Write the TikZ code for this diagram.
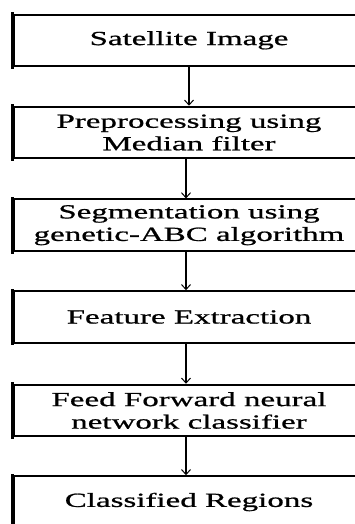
\documentclass[tikz,border=0pt]{standalone}
\usepackage{fontspec}
\setmainfont{Liberation Serif}[FakeStretch=1.65,FakeBold=0.8]
\usetikzlibrary{arrows.meta}
\tikzset{
  stagebox/.style={draw=black, line width=2pt, minimum width=351pt, minimum height=51.5pt,
    inner sep=0pt, align=center, font=\fontsize{20}{22.5}\selectfont, text=black},
  leftedge/.style={line width=3.2pt, line cap=rect},
  flowarrow/.style={line width=1.2pt, -{Straight Barb[length=5pt,width=9pt,line width=1pt]}}
}
\begin{document}
\begin{tikzpicture}[x=1pt,y=-1pt]
\useasboundingbox (0,0) rectangle (355,524);
\clip (0,0) rectangle (355,524);
\node[stagebox] (b1) at (189,40.3) {Satellite Image};
\node[stagebox] (b2) at (189,132.5) {Preprocessing using\\Median filter};
\node[stagebox] (b3) at (189,225.2) {Segmentation using\\genetic-ABC algorithm};
\node[stagebox] (b4) at (189,317) {Feature Extraction};
\node[stagebox] (b5) at (189,410.5) {Feed Forward neural\\network classifier};
\node[stagebox] (b6) at (189,502) {Classified Regions};
\foreach \n in {b1,b2,b3,b4,b5,b6}{
  \draw[leftedge] (\n.north west) -- (\n.south west);
}
\draw[flowarrow] (b1.south) -- (b2.north);
\draw[flowarrow] ([xshift=-3pt]b2.south) -- ([xshift=-3pt]b3.north);
\draw[flowarrow] ([xshift=-3pt]b3.south) -- ([xshift=-3pt]b4.north);
\draw[flowarrow] ([xshift=-3pt]b4.south) -- ([xshift=-3pt]b5.north);
\draw[flowarrow] ([xshift=-3pt]b5.south) -- ([xshift=-3pt]b6.north);
\end{tikzpicture}
\end{document}
